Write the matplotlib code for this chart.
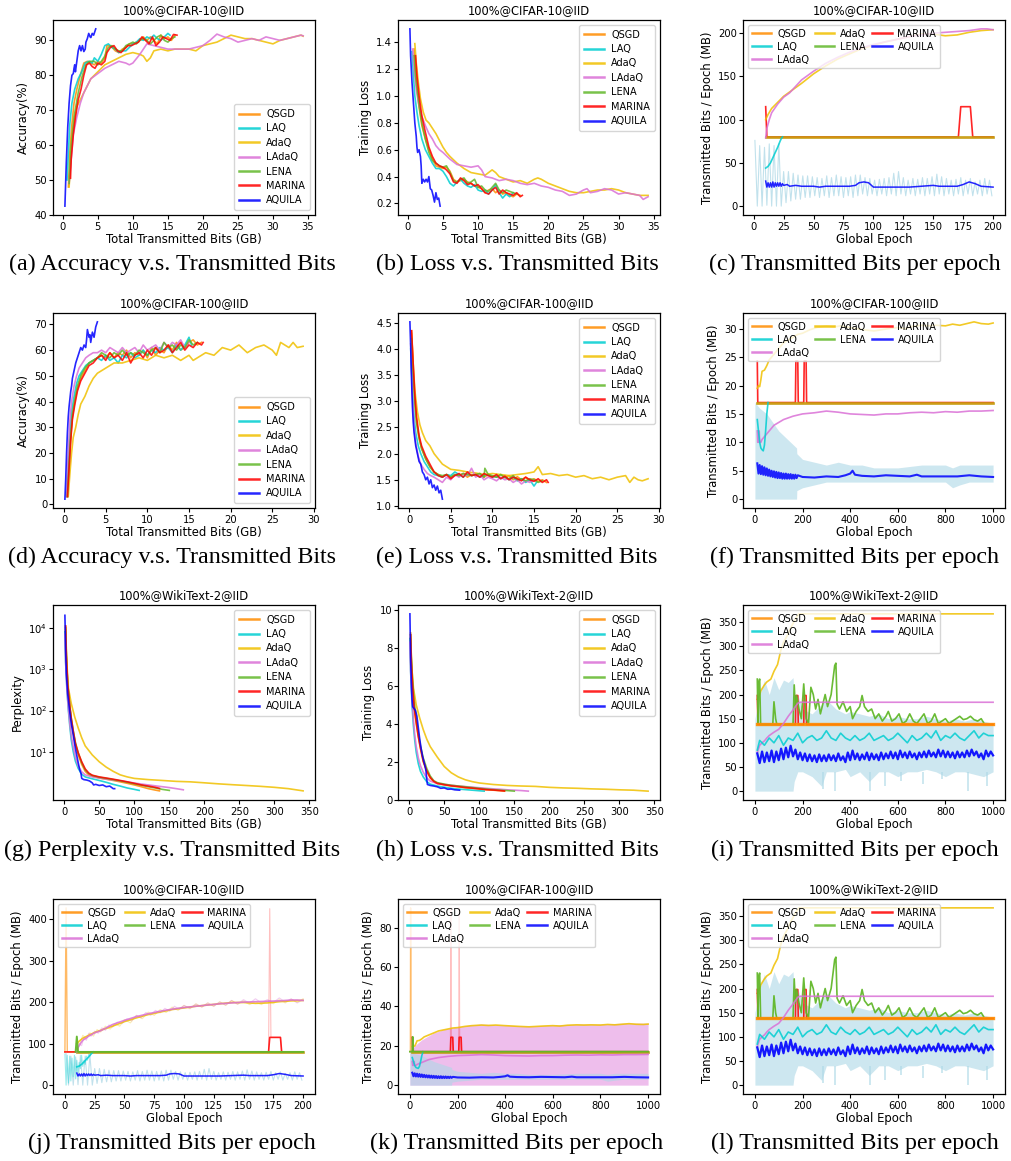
import numpy as np
import matplotlib
matplotlib.use('Agg')
import matplotlib.pyplot as plt
from matplotlib.lines import Line2D
from matplotlib.ticker import MultipleLocator, FixedLocator, NullLocator

# ---------------- labels / colours ----------------
methods = ['QSGD', 'LAQ', 'AdaQ', 'LAdaQ', 'LENA', 'MARINA', 'AQUILA']
colors = ['darkorange', 'darkturquoise', '#f0c000', 'orchid', '#62b82a', 'red', 'blue']
captions = ['(a) Accuracy v.s. Transmitted Bits', '(b) Loss v.s. Transmitted Bits', '(c) Transmitted Bits per epoch',
            '(d) Accuracy v.s. Transmitted Bits', '(e) Loss v.s. Transmitted Bits', '(f) Transmitted Bits per epoch',
            '(g) Perplexity v.s. Transmitted Bits', '(h) Loss v.s. Transmitted Bits', '(i) Transmitted Bits per epoch',
            '(j) Transmitted Bits per epoch', '(k) Transmitted Bits per epoch', '(l) Transmitted Bits per epoch']
titles = ['100%@CIFAR-10@IID', '100%@CIFAR-100@IID', '100%@WikiText-2@IID']

# ---------------- (a) accuracy CIFAR-10 ----------------
a_qsgd = [(0.8,48),(1.0,58),(1.3,66),(1.6,72),(2,76),(2.5,80),(3,83.5),(3.5,84),(4,83.5),(4.5,83),(5,84),(5.5,83.5),(6,85),(6.3,88.5),(6.8,88.5),(7.5,87),(8,86.5),(8.5,87.5),(9,88),(9.5,89),(10,89),(10.5,89.5),(11,90),(11.5,91),(12,90),(12.5,91),(13,90),(13.5,89),(14,91.5),(14.5,90.5),(15,91),(15.5,90),(16,91.5)]
a_laq = [(0.6,50),(0.8,58),(1,66),(1.3,72),(1.7,76),(2.2,79),(2.7,81),(3.2,83.5),(3.7,84),(4.2,83.5),(4.5,85),(5,84),(5.5,86),(6,88.5),(6.5,89),(7,88),(7.5,87.5),(8,86.5),(8.5,87),(9,87),(9.5,88),(10,89),(10.5,89.5),(11,90.5),(11.5,90),(12,91),(12.5,90.5),(13,91.5),(13.5,90.5),(14,90),(14.5,91),(15,92),(15.3,91.5)]
a_adaq = [(0.9,48),(1.2,58),(1.5,65),(2,71),(2.5,73),(3,75),(3.5,77),(4,79),(5,81),(6,83),(7,84),(8,85),(9,86),(10,86.5),(11,86),(11.5,85.5),(12,84),(12.5,85),(13,87),(14,87.5),(15,87),(16,87.5),(17,87.5),(18,87.5),(19,87),(20,88.5),(21,89),(22,89.5),(23,90.5),(24,91.5),(25,91),(26,90.5),(27,90.5),(28,90),(29,89.5),(30,89),(31,90),(32,90.5),(33,91),(34,91.5),(34.3,91.2)]
a_ladaq = [(0.9,49),(1.2,56),(1.5,63),(2,68),(2.5,72),(3,75),(3.5,77),(4,79),(5,80.5),(6,82),(7,83),(8,84),(9,83.5),(9.5,83),(10,83.5),(11,86),(12,89),(13,88.5),(14,88),(15,87.5),(16,87.5),(17,87.5),(18,87.5),(19,88),(20,88.5),(21,90),(22,91.8),(23,91),(24,90.5),(25,89.5),(26,90),(27,90.5),(28,90),(29,91),(30,90.5),(31,90),(32,90.5),(33,91),(34,91.5),(34.3,91.3)]
a_lena = [(0.9,49),(1.2,60),(1.6,68),(2.2,75),(2.8,80),(3.3,83),(3.8,84),(4.5,84),(5,83),(5.5,84),(6,85.5),(6.5,88),(7,88.5),(7.5,87.5),(8,87),(8.5,87),(9,88.5),(9.5,89),(10,89.5),(10.5,89),(11,90),(11.5,90.5),(12,90),(12.5,89),(13,90),(13.5,91),(14,91.5),(14.5,90),(15,89.5),(15.5,90.5),(16,91)]
a_marina = [(1.1,50.5),(1.2,56),(1.5,63),(1.8,68),(2.2,73),(2.6,76),(3,80),(3.4,83),(3.8,83.5),(4.2,82.5),(4.6,82),(5,83.5),(5.5,83),(6,84),(6.3,86.5),(6.8,88),(7.3,88.5),(7.8,87),(8.3,86.5),(8.8,87.5),(9.3,88.5),(9.8,88.5),(10.3,89),(10.8,89.5),(11.3,91),(11.8,90),(12.3,89),(12.8,91),(13.3,88.5),(13.8,89.5),(14.3,91),(14.8,90.5),(15.3,90),(15.8,91.7),(16.3,91.5)]
a_aquila = [(0.3,42.5),(0.5,55),(0.7,65),(0.9,72),(1.1,77),(1.3,80),(1.5,80.5),(1.6,82),(1.7,83),(1.8,81),(2.0,84),(2.2,87),(2.4,88.5),(2.6,87),(2.8,88.5),(3.0,86.8),(3.2,87.5),(3.3,89.5),(3.5,90.5),(3.7,92),(3.9,91),(4.0,90.8),(4.2,92),(4.4,91.5),(4.7,93.3)]

# ---------------- (b) loss CIFAR-10 ----------------
b_qsgd = [(0.9,1.35),(1.1,1.2),(1.3,1.05),(1.6,0.92),(2,0.78),(2.5,0.68),(3,0.6),(3.5,0.53),(4,0.48),(4.5,0.47),(5,0.46),(5.5,0.47),(6,0.44),(6.5,0.38),(7,0.36),(7.5,0.37),(8,0.38),(8.5,0.36),(9,0.35),(9.5,0.33),(10,0.32),(10.5,0.31),(11,0.28),(11.5,0.3),(12,0.31),(12.5,0.28),(13,0.3),(13.5,0.27),(14,0.28),(14.5,0.26),(15,0.25),(15.5,0.27),(16,0.26)]
b_laq = [(0.6,1.33),(0.8,1.15),(1,1.0),(1.3,0.88),(1.6,0.78),(2,0.68),(2.5,0.6),(3,0.55),(3.5,0.5),(4,0.46),(4.5,0.46),(5,0.44),(5.5,0.4),(6,0.35),(6.5,0.33),(7,0.36),(7.5,0.38),(8,0.35),(8.5,0.33),(9,0.32),(9.5,0.34),(10,0.3),(10.5,0.29),(11,0.3),(11.5,0.27),(12,0.3),(12.5,0.34),(13,0.28),(13.5,0.24),(14,0.27),(14.5,0.25),(15,0.28)]
b_adaq = [(1.0,1.39),(1.2,1.25),(1.5,1.1),(1.8,0.98),(2.2,0.88),(2.6,0.82),(3,0.8),(3.5,0.76),(4,0.72),(4.5,0.67),(5,0.62),(5.5,0.58),(6,0.55),(7,0.5),(8,0.46),(9,0.43),(10,0.42),(11,0.41),(12,0.45),(12.5,0.43),(13,0.4),(14,0.38),(15,0.36),(16,0.37),(17,0.35),(18,0.38),(18.5,0.39),(19,0.38),(20,0.35),(21,0.33),(22,0.31),(23,0.29),(24,0.28),(25,0.28),(26,0.29),(27,0.3),(28,0.3),(29,0.31),(30,0.3),(31,0.28),(32,0.27),(33,0.26),(34.2,0.26)]
b_ladaq = [(0.7,1.35),(0.9,1.2),(1.2,1.05),(1.5,0.95),(2,0.85),(2.5,0.78),(3,0.72),(3.5,0.68),(4,0.63),(4.5,0.6),(5,0.58),(6,0.53),(7,0.49),(8,0.48),(9,0.47),(10,0.48),(10.5,0.45),(11,0.4),(12,0.39),(13,0.37),(14,0.38),(15,0.37),(16,0.35),(17,0.34),(18,0.35),(19,0.33),(20,0.32),(21,0.3),(22,0.29),(23,0.26),(24,0.27),(25,0.3),(25.5,0.31),(26,0.28),(27,0.29),(28,0.31),(29,0.3),(30,0.27),(31,0.28),(32,0.27),(33,0.26),(33.5,0.23),(34.2,0.25)]
b_lena = [(0.9,1.3),(1.1,1.15),(1.4,1.02),(1.7,0.9),(2,0.8),(2.5,0.68),(3,0.58),(3.5,0.52),(4,0.5),(4.5,0.48),(5,0.47),(5.5,0.48),(6,0.43),(6.5,0.37),(7,0.36),(7.5,0.38),(8,0.39),(8.5,0.35),(9,0.36),(9.5,0.38),(10,0.32),(10.5,0.33),(11,0.3),(11.5,0.29),(12,0.32),(12.5,0.35),(13,0.3),(13.5,0.28),(14,0.3),(14.5,0.29),(15,0.28),(15.5,0.27)]
b_marina = [(1.1,1.3),(1.3,1.15),(1.6,1.0),(2,0.85),(2.5,0.73),(3,0.62),(3.5,0.55),(4,0.5),(4.5,0.48),(5,0.47),(5.5,0.45),(6,0.42),(6.5,0.36),(7,0.35),(7.5,0.39),(8,0.37),(8.5,0.34),(9,0.35),(9.5,0.33),(10,0.34),(10.5,0.31),(11,0.28),(11.5,0.27),(12,0.3),(12.5,0.32),(13,0.27),(13.5,0.3),(14,0.28),(14.5,0.27),(15,0.26),(15.5,0.28),(16,0.25),(16.3,0.26)]
b_aquila = [(0.3,1.5),(0.4,1.3),(0.6,1.1),(0.8,0.95),(1.0,0.8),(1.2,0.7),(1.3,0.62),(1.4,0.58),(1.6,0.6),(1.8,0.55),(1.9,0.48),(2.0,0.35),(2.2,0.38),(2.4,0.36),(2.6,0.38),(2.8,0.36),(3.0,0.4),(3.2,0.31),(3.4,0.3),(3.6,0.26),(3.8,0.21),(4.0,0.28),(4.2,0.23),(4.4,0.24),(4.6,0.18)]

# ---------------- (d) accuracy CIFAR-100 ----------------
d_qsgd = [(0.4,3),(0.6,15),(0.8,26),(1.0,34),(1.3,40),(1.6,45),(2,49),(2.5,52),(3,55),(3.5,56),(4,57),(4.5,58),(5,57),(5.5,59),(6,57),(6.5,59),(7,58),(7.5,60),(8,57),(8.5,59),(9,58),(9.5,60),(10,57),(10.5,61),(11,58),(11.5,60),(12,59),(12.5,62),(13,60),(13.5,63),(14,60),(14.5,61),(15,63),(15.5,64),(16,62),(16.5,63)]
d_laq = [(0.3,3),(0.5,15),(0.7,28),(0.9,36),(1.2,42),(1.5,47),(1.8,50),(2.2,52),(2.6,54),(3,55),(3.5,56),(4,57),(4.5,56),(5,58),(5.5,56),(6,57),(6.5,55),(7,58),(7.5,57),(8,59),(8.5,57),(9,58),(9.5,60),(10,58),(10.5,60),(11,59),(11.5,61),(12,60),(12.5,61),(13,59),(13.5,62),(14,60),(14.5,62),(15,65),(15.3,62)]
d_adaq = [(0.5,3),(0.7,12),(0.9,20),(1.1,26),(1.4,30),(1.7,35),(2,39),(2.5,42),(3,46),(3.5,49),(4,51),(4.5,52),(5,53),(6,55),(7,55),(8,56),(9,57),(10,56),(11,58),(12,57),(13,58),(14,56),(15,58),(15.5,56),(16,57),(17,59),(18,58),(19,61),(20,60),(21,62),(22,59),(23,61),(24,62),(25,60),(25.5,58),(26,63),(27,61),(27.5,63),(28,61),(28.7,61.5)]
d_ladaq = [(0.3,3),(0.5,20),(0.7,33),(0.9,40),(1.2,46),(1.5,50),(1.8,53),(2.2,55),(2.6,57),(3,58),(3.5,59),(4,59),(4.5,60),(5,59),(5.5,61),(6,60),(6.5,59),(7,61),(7.5,59),(8,60),(8.5,61),(9,59),(9.5,62),(10,60),(10.5,61),(11,62),(11.5,60),(12,63),(12.5,61),(13,63),(13.5,62),(14,64),(14.5,61),(15,63)]
d_lena = [(0.4,3),(0.6,16),(0.8,27),(1,35),(1.3,41),(1.6,46),(2,50),(2.5,53),(3,55),(3.5,56),(4,57),(4.5,59),(5,58),(5.5,57),(6,59),(6.5,58),(7,60),(7.5,58),(8,59),(8.5,58),(9,60),(9.5,59),(10,58),(10.5,60),(11,61),(11.5,59),(12,63),(12.5,61),(13,62),(13.5,60),(14,62),(14.5,61),(15,64),(15.5,62),(16,63)]
d_marina = [(0.4,3),(0.6,14),(0.8,25),(1,33),(1.3,39),(1.6,44),(2,48),(2.5,51),(3,54),(3.5,55),(4,57),(4.5,58),(5,56),(5.5,59),(6,57),(6.5,58),(7,56),(7.5,59),(8,55),(8.5,58),(9,59),(9.5,57),(10,60),(10.5,58),(11,61),(11.5,59),(12,60),(12.5,62),(13,59),(13.5,61),(14,63),(14.5,60),(15,62),(15.5,61),(16,63),(16.5,62),(16.7,63)]
d_aquila = [(0.1,2),(0.2,10),(0.3,20),(0.4,28),(0.5,34),(0.6,38),(0.7,41),(0.8,44),(0.9,46),(1.0,49),(1.2,52),(1.4,55),(1.6,57),(1.8,59),(2.0,61),(2.2,60),(2.4,62),(2.6,61),(2.7,64),(2.8,68),(3.0,65),(3.1,66),(3.2,63),(3.4,67),(3.6,65),(3.8,69),(4.0,71)]

# ---------------- (e) loss CIFAR-100 ----------------
e_qsgd = [(0.3,4.35),(0.5,3.6),(0.7,3.0),(0.9,2.6),(1.2,2.3),(1.5,2.1),(2,1.9),(2.5,1.75),(3,1.65),(3.5,1.6),(4,1.55),(4.5,1.6),(5,1.55),(5.5,1.6),(6,1.58),(6.5,1.62),(7,1.55),(7.5,1.6),(8,1.58),(8.5,1.62),(9,1.55),(9.5,1.6),(10,1.57),(10.5,1.55),(11,1.6),(11.5,1.54),(12,1.58),(12.5,1.5),(13,1.56),(13.5,1.5),(14,1.55),(14.5,1.48),(15,1.52),(15.5,1.47),(16,1.5),(16.5,1.45)]
e_laq = [(0.2,4.0),(0.4,3.2),(0.6,2.7),(0.8,2.4),(1.1,2.15),(1.4,2.0),(1.8,1.85),(2.2,1.75),(2.6,1.65),(3,1.6),(3.5,1.58),(4,1.55),(4.5,1.6),(5,1.58),(5.5,1.65),(6,1.6),(6.5,1.55),(7,1.62),(7.5,1.58),(8,1.6),(8.5,1.55),(9,1.58),(9.5,1.6),(10,1.55),(10.5,1.57),(11,1.52),(11.5,1.55),(12,1.5),(12.5,1.55),(13,1.48),(13.5,1.52),(14,1.45),(14.5,1.5),(15,1.38),(15.3,1.45)]
e_adaq = [(0.3,4.3),(0.5,3.7),(0.7,3.2),(1.0,2.8),(1.3,2.55),(1.6,2.4),(2,2.25),(2.5,2.15),(3,2.0),(3.5,1.9),(4,1.8),(4.5,1.75),(5,1.7),(6,1.68),(7,1.65),(8,1.63),(9,1.6),(10,1.62),(11,1.6),(12,1.58),(13,1.6),(14,1.62),(15,1.65),(15.5,1.75),(16,1.6),(17,1.62),(18,1.58),(19,1.6),(20,1.55),(21,1.58),(22,1.52),(23,1.55),(24,1.5),(25,1.55),(26,1.58),(26.5,1.45),(27,1.55),(27.5,1.5),(28,1.48),(28.7,1.52)]
e_ladaq = [(0.2,4.1),(0.4,3.1),(0.6,2.5),(0.8,2.2),(1.1,1.95),(1.4,1.8),(1.8,1.7),(2.2,1.62),(2.6,1.58),(3,1.55),(3.5,1.5),(4,1.45),(4.5,1.55),(5,1.5),(5.5,1.6),(6,1.55),(6.5,1.62),(7,1.58),(7.5,1.72),(8,1.55),(8.5,1.6),(9,1.5),(9.5,1.55),(10,1.52),(10.5,1.48),(11,1.55),(11.5,1.5),(12,1.52),(12.5,1.45),(13,1.5),(13.5,1.42),(14,1.48),(14.5,1.45),(15,1.5)]
e_lena = [(0.3,4.2),(0.5,3.5),(0.7,2.95),(0.9,2.6),(1.2,2.3),(1.5,2.1),(2,1.9),(2.5,1.75),(3,1.65),(3.5,1.6),(4,1.58),(4.5,1.6),(5,1.55),(5.5,1.6),(6,1.58),(6.5,1.62),(7,1.6),(7.5,1.58),(8,1.6),(8.5,1.62),(9,1.55),(9.1,1.72),(9.5,1.6),(10,1.58),(10.5,1.55),(11,1.6),(11.5,1.55),(12,1.52),(12.5,1.58),(13,1.5),(13.5,1.52),(14,1.48),(14.5,1.52),(15,1.5),(15.5,1.45),(16,1.48)]
e_marina = [(0.3,4.35),(0.5,3.7),(0.7,3.1),(0.9,2.7),(1.2,2.35),(1.5,2.15),(2,1.95),(2.5,1.8),(3,1.65),(3.5,1.58),(4,1.55),(4.5,1.6),(5,1.52),(5.5,1.58),(6,1.62),(6.5,1.55),(7,1.65),(7.5,1.58),(8,1.6),(8.5,1.55),(9,1.62),(9.5,1.58),(10,1.55),(10.5,1.6),(11,1.52),(11.5,1.57),(12,1.5),(12.5,1.55),(13,1.52),(13.5,1.48),(14,1.55),(14.5,1.5),(15,1.47),(15.5,1.52),(16,1.45),(16.5,1.5),(16.7,1.45)]
e_aquila = [(0.1,4.52),(0.2,4.0),(0.3,3.4),(0.4,2.9),(0.5,2.6),(0.6,2.4),(0.8,2.15),(1.0,2.0),(1.2,1.85),(1.4,1.8),(1.6,1.65),(1.8,1.6),(2.0,1.5),(2.2,1.55),(2.4,1.42),(2.6,1.5),(2.8,1.35),(3.0,1.4),(3.2,1.3),(3.4,1.38),(3.6,1.25),(3.8,1.3),(4.0,1.13)]

# ---------------- (g) perplexity WikiText-2 ----------------
g_qsgd = [(2,11000),(3,2000),(5,400),(8,120),(10,60),(13,28),(16,15),(20,8.5),(25,5.0),(30,3.4),(35,2.8),(40,2.6),(50,2.35),(60,2.2),(70,2.05),(80,1.9),(90,1.75),(100,1.6),(110,1.45),(120,1.3),(130,1.2),(136,1.15)]
g_laq = [(1,8000),(2,1500),(4,300),(6,100),(8,42),(10,20),(13,10),(16,6),(20,4.0),(25,2.9),(30,2.5),(40,2.25),(50,2.05),(60,1.85),(70,1.65),(80,1.5),(90,1.35),(100,1.25),(107,1.18)]
g_adaq = [(2,9000),(4,1200),(6,350),(10,150),(15,70),(20,38),(25,22),(30,14),(40,8.5),(50,5.8),(60,4.3),(70,3.4),(80,2.8),(90,2.5),(100,2.3),(120,2.15),(140,2.05),(160,1.95),(180,1.9),(200,1.8),(220,1.7),(240,1.62),(260,1.55),(280,1.48),(300,1.4),(320,1.3),(341,1.15)]
g_ladaq = [(1,7000),(2,1500),(4,300),(6,110),(8,48),(10,25),(13,13),(16,7.5),(20,4.6),(25,3.3),(30,2.8),(40,2.5),(50,2.35),(60,2.2),(70,2.1),(80,2.0),(90,1.9),(100,1.78),(110,1.68),(120,1.6),(130,1.52),(140,1.45),(150,1.38),(160,1.3),(170,1.22)]
g_lena = [(2,10000),(3,2200),(5,450),(8,130),(10,68),(13,32),(16,17),(20,9.5),(25,5.5),(30,3.7),(35,3.0),(40,2.7),(50,2.45),(60,2.3),(70,2.15),(80,2.0),(90,1.85),(100,1.7),(110,1.58),(120,1.45),(130,1.35),(140,1.25),(150,1.18)]
g_marina = [(2,11000),(3,2200),(5,420),(8,125),(10,65),(13,31),(16,16),(20,9.5),(25,5.8),(30,3.9),(35,3.1),(40,2.75),(50,2.5),(60,2.35),(70,2.2),(80,2.05),(90,1.9),(100,1.75),(110,1.6),(120,1.5),(130,1.4),(136,1.32)]
g_aquila = [(1,20000),(2,3000),(3,800),(5,250),(8,90),(10,50),(13,25),(16,12),(20,5.5),(22,3.8),(24,3.0),(25,2.3),(28,2.15),(32,2.1),(36,2.0),(40,1.8),(42,1.6),(45,1.65),(50,1.55),(55,1.6),(60,1.45),(65,1.5),(70,1.3),(72,1.3)]

# ---------------- (h) loss WikiText-2 ----------------
h_qsgd = [(2,8.8),(3,7.2),(5,5.8),(7,4.8),(10,4.0),(13,3.3),(16,2.7),(20,2.0),(25,1.5),(30,1.15),(35,0.95),(40,0.85),(50,0.78),(60,0.72),(70,0.68),(80,0.63),(90,0.6),(100,0.56),(110,0.52),(120,0.5),(130,0.47),(136,0.45)]
h_laq = [(1,8.5),(2,6.8),(4,5.0),(6,3.9),(8,3.1),(10,2.5),(13,1.9),(16,1.5),(20,1.2),(25,0.95),(30,0.82),(40,0.72),(50,0.66),(60,0.6),(70,0.56),(80,0.53),(90,0.5),(100,0.47),(107,0.45)]
h_adaq = [(2,8.5),(4,6.8),(6,5.9),(10,5.0),(15,4.3),(20,3.7),(25,3.2),(30,2.8),(40,2.25),(50,1.75),(60,1.42),(70,1.2),(80,1.05),(90,0.95),(100,0.88),(120,0.8),(140,0.75),(160,0.72),(180,0.7),(200,0.65),(220,0.62),(240,0.6),(260,0.57),(280,0.55),(300,0.52),(320,0.5),(341,0.45)]
h_ladaq = [(1,8.3),(2,6.8),(4,5.3),(6,4.2),(8,3.4),(10,2.8),(13,2.2),(16,1.8),(20,1.45),(25,1.15),(30,0.98),(40,0.85),(50,0.8),(60,0.76),(70,0.72),(80,0.69),(90,0.66),(100,0.63),(110,0.6),(120,0.57),(130,0.55),(140,0.52),(150,0.5),(160,0.48),(170,0.45)]
h_lena = [(2,8.7),(3,7.5),(5,6.2),(7,5.2),(10,4.3),(13,3.5),(16,2.85),(20,2.2),(25,1.65),(30,1.25),(35,1.0),(40,0.9),(50,0.82),(60,0.76),(70,0.72),(80,0.68),(90,0.64),(100,0.6),(110,0.56),(120,0.53),(130,0.5),(140,0.48),(150,0.45)]
h_marina = [(2,8.7),(3,7.3),(5,5.9),(7,4.9),(10,4.1),(13,3.35),(16,2.75),(20,2.05),(25,1.52),(30,1.17),(35,0.97),(40,0.86),(50,0.79),(60,0.73),(70,0.69),(80,0.64),(90,0.61),(100,0.57),(110,0.53),(120,0.51),(130,0.48),(136,0.46)]
h_aquila = [(1,9.8),(2,7.5),(3,6.2),(4,5.3),(5,4.9),(7,4.8),(9,4.7),(11,4.4),(13,3.8),(15,3.2),(17,2.7),(19,2.3),(21,2.0),(23,1.7),(24,1.5),(25,1.1),(26,0.8),(30,0.75),(35,0.72),(40,0.68),(45,0.6),(50,0.62),(55,0.55),(60,0.56),(65,0.52),(72,0.5)]

# ---------------- (c)/(j) per-epoch CIFAR-10 ----------------
c_aquila_raw = [76,0,70,0,68,1,72,0,70,0,72,0,
                40,4,40,6,38,8,36,8,35,10,35,10,
                34,12,33,10,32,12,35,10,33,12,36,12,
                34,10,33,12,34,10,36,12,36,14,33,12,
                32,14,30,12,31,14,32,12,33,14,38,12,
                40,14,33,12,30,14,32,12,31,14,33,12,
                32,14,34,12,37,14,34,12,32,14,30,12,
                31,14,33,12,30,14,32,12,28,14,30,12,32,14,30,12]
c_qsgd = [(10,80),(200,80)]
c_lena = [(10,80),(200,80)]
c_laq = [(10,44),(12,46),(14,50),(16,56),(18,62),(20,68),(22,75),(23,78),(24,80)]
c_marina = [(10,115),(11,80),(171,80),(173,115),(181,115),(183,80),(200,80)]
c_adaq = [(10,100),(12,106),(15,113),(20,120),(25,127),(30,132),(35,137),(40,142),(50,153),(60,162),(70,170),(80,176),(90,182),(100,186),(110,190),(120,193),(130,196),(140,199),(150,199),(160,197),(170,198),(180,201),(190,203),(200,204)]
c_ladaq = [(10,79),(11,90),(13,100),(15,108),(20,118),(25,126),(30,131),(40,146),(50,156),(60,165),(70,172),(80,178),(90,183),(100,187),(110,190),(120,193),(130,196),(140,198),(150,200),(160,201),(170,202),(180,203),(190,205),(195,205),(200,204)]
c_aquila = [(10,29),(11,22),(12,27),(13,22),(14,27),(15,22),(16,28),(17,22),(18,27),(19,23),(20,27),(21,23),(22,27),(23,23),(24,26),(25,24),(28,25),(30,23),(35,24),(40,23),(45,23),(50,23),(55,22),(60,23),(65,23),(70,23),(75,23),(80,23),(85,24),(88,27),(92,28),(96,27),(100,22),(110,22),(120,22),(130,22),(140,23),(150,24),(155,23),(160,23),(170,23),(175,25),(180,28),(185,26),(190,23),(200,22)]
j_qsgd_raw = [(0,80),(1,427),(2,80),(10,80)]
j_marina_raw = [(171,80),(172,425),(173,115),(181,115),(182,80)]
j_marina = [(0,80),(171,80),(172,115),(181,115),(182,80),(200,80)]
j_lena = [(9,80),(10,117),(11,80),(200,80)]
j_laq_raw = [(0,75),(1,0),(2,72),(3,5),(4,70),(5,10),(6,65),(7,20),(8,72),(9,15),(10,60),(11,30),(12,55),(13,40),(14,72),(15,45),(16,60),(17,50),(18,70),(19,60),(20,75),(21,70),(22,80),(23,78),(24,80)]
j_ladaq_raw = [(10,80),(12,100),(14,95),(16,115),(18,108),(20,125),(22,118),(25,130),(28,125),(31,138),(34,132),(37,145),(40,140),(44,152),(48,148),(52,160),(56,155),(60,168),(64,162),(68,175),(72,168),(76,180),(80,174),(84,185),(88,178),(92,190),(96,183),(100,192),(105,185),(110,195),(115,188),(120,198),(125,190),(130,200),(135,193),(140,204),(145,195),(150,206),(155,197),(160,208),(165,198),(170,206),(175,199),(180,210),(185,200),(190,208),(195,198),(200,206)]
j_adaq_raw = [(10,105),(12,96),(15,120),(18,112),(21,126),(24,118),(27,134),(30,128),(34,142),(38,135),(42,148),(46,142),(50,158),(55,150),(60,168),(65,160),(70,176),(75,168),(80,182),(85,175),(90,188),(95,180),(100,192),(105,184),(110,196),(115,188),(120,198),(125,190),(130,201),(135,192),(140,204),(145,195),(150,203),(155,194),(160,201),(165,194),(170,203),(175,196),(180,206),(185,198),(190,207),(195,200),(200,208)]

# ---------------- (f)/(k) per-epoch CIFAR-100 ----------------
f_qsgd = [(10,17),(1000,17)]
f_lena = [(10,17),(1000,17)]
f_marina = [(10,24.3),(12,17),(170,17),(172,24.3),(180,24.3),(182,17),(205,17),(207,24.3),(215,24.3),(217,17),(1000,17)]
f_adaq = [(10,19.5),(15,20),(20,19.8),(25,21),(30,22.5),(40,22.7),(50,23.5),(60,24.5),(70,25),(80,25.5),(100,26.5),(120,27.5),(140,28),(160,28.5),(180,29),(200,29.2),(230,29.8),(260,30.2),(300,30.5),(330,30.3),(360,30.5),(400,30.2),(430,30),(460,29.8),(500,29.6),(530,29.8),(560,30),(600,30.2),(630,30),(660,30.4),(700,30.6),(730,30.5),(760,30.6),(800,30.5),(830,30.8),(860,30.6),(900,31),(920,31.2),(950,30.9),(980,30.8),(1000,31)]
f_ladaq = [(10,12),(12,10),(14,12),(16,10),(18,12),(20,10),(25,10),(30,10.5),(40,11),(50,11.5),(60,12),(80,13),(100,13.5),(120,14),(140,14.3),(160,14.6),(180,14.8),(200,15),(250,15.2),(300,15.5),(350,15.3),(400,15),(450,14.9),(500,14.8),(550,15),(600,15),(650,15.2),(700,15.3),(750,15.2),(800,15.4),(850,15.3),(900,15.5),(950,15.5),(1000,15.6)]
f_laq = [(10,14),(15,12),(20,10),(25,9),(30,8.7),(35,8.5),(40,9.5),(45,12),(50,15),(55,17)]
f_aquila = [(10,6.3),(15,4.5),(20,6.0),(25,4.4),(30,5.8),(35,4.3),(40,5.6),(45,4.2),(50,5.4),(55,4.1),(60,5.2),(65,4.0),(70,5.0),(75,3.9),(80,4.9),(85,3.8),(90,4.8),(95,3.7),(100,4.7),(105,3.7),(110,4.6),(115,3.6),(120,4.5),(125,3.6),(130,4.5),(135,3.6),(140,4.4),(145,3.6),(150,4.4),(155,3.6),(160,4.3),(165,3.6),(170,4.3),(175,3.7),(180,4.2),(200,3.9),(250,3.8),(300,4.0),(350,3.9),(380,4.2),(400,4.5),(410,5.0),(420,4.3),(450,4.1),(500,4.0),(550,4.2),(600,4.1),(650,4.0),(680,4.3),(700,4.0),(750,4.0),(800,4.0),(850,4.0),(900,4.2),(950,4.0),(1000,3.9)]
f_raw_x = [0, 20, 50, 100, 150, 175, 176, 200, 250, 300, 350, 400, 450, 500, 600, 700, 800, 830, 860, 900, 1000]
f_raw_hi = [17, 16, 15, 12, 10, 9, 8, 7, 6.5, 6, 6.5, 6, 6, 5.5, 5.5, 6, 6, 5.5, 6, 6, 6]
f_raw_lo = [0, 0, 0, 0, 0, 0, 1.5, 2, 2.5, 3, 3, 3, 3, 3, 3, 3, 3, 2, 2.5, 3, 3]
k_qsgd_raw = [(0,17),(2,17),(3,90),(4,17),(10,17)]
k_marina_raw = [(170,17),(172,90),(174,24.3),(178,24.3),(180,17),(205,17),(207,90),(209,24.3),(213,24.3),(215,17)]
k_lena = [(0,17),(10,17),(12,24.5),(14,17),(1000,17)]
k_ladaq_raw_x = [0, 20, 50, 100, 150, 200, 250, 300, 400, 500, 600, 700, 800, 900, 1000]
k_ladaq_raw_hi = [17, 20, 23, 26.5, 28.5, 29.5, 30.5, 31, 30.5, 30, 30.5, 31, 31, 31.5, 31.5]

# ---------------- (i)/(l) per-epoch WikiText-2 ----------------
i_qsgd = [(10,138),(1000,138)]
i_marina = [(10,198),(13,138),(170,138),(172,198),(180,198),(182,138),(205,138),(207,198),(215,198),(217,138),(1000,138)]
i_adaq = [(10,190),(20,200),(25,208),(30,212),(40,220),(50,226),(67,232),(80,248),(95,262),(108,290),(120,308),(136,322),(150,338),(171,357),(185,367),(1000,367)]
i_ladaq = [(10,80),(20,95),(30,100),(40,104),(50,110),(60,115),(80,122),(100,128),(120,140),(140,155),(160,168),(180,182),(190,184),(1000,184)]
i_lena = [(10,232),(13,140),(16,225),(20,232),(24,138),(75,138),(80,185),(87,150),(92,138),(160,138),(165,220),(170,170),(175,198),(185,170),(195,150),(205,222),(215,150),(225,140),(235,215),(245,200),(255,170),(265,190),(275,160),(285,180),(295,200),(305,175),(320,200),(335,260),(340,265),(345,180),(355,170),(370,185),(385,165),(400,175),(410,150),(425,165),(440,175),(450,198),(460,175),(475,165),(490,170),(505,150),(520,160),(535,145),(550,155),(560,165),(575,145),(590,150),(605,160),(620,140),(635,145),(650,160),(665,145),(680,140),(695,150),(710,160),(725,140),(740,145),(755,160),(770,140),(785,145),(800,150),(815,140),(830,145),(845,150),(860,155),(875,148),(890,150),(905,155),(920,148),(935,145),(950,150),(960,142)]
i_laq = [(10,85),(20,105),(40,95),(60,110),(80,100),(100,115),(120,95),(140,110),(160,105),(180,120),(200,100),(220,110),(240,115),(260,105),(280,110),(300,125),(320,110),(340,105),(360,120),(380,110),(400,105),(420,115),(440,105),(460,110),(480,120),(500,105),(520,110),(540,115),(560,105),(580,110),(600,120),(620,110),(640,100),(660,115),(680,105),(700,110),(720,120),(740,110),(760,125),(780,105),(800,115),(820,110),(840,120),(860,110),(880,105),(900,115),(920,125),(940,110),(960,120),(980,115),(1000,115)]
i_aquila = [78,58,82,60,80,62,84,60,82,64,
            88,66,90,70,94,72,86,66,80,64,
            78,62,76,62,74,60,76,62,74,62,
            76,64,74,62,78,64,72,60,80,64,
            84,66,78,64,76,66,80,64,78,66,
            76,64,80,66,78,68,82,68,80,66,
            84,70,80,68,82,70,78,66,80,70,
            82,70,84,72,80,70,86,72,84,70,
            82,70,80,68,82,70,80,70,84,72,
            86,74,82,70,78,66,84,72,82,74]
i_raw_x = [0,20,40,60,80,100,120,140,160,165,180,200,240,280,300,340,380,400,440,480,520,560,600,640,680,720,760,800,840,880,920,960,1000]
i_raw_hi = [150,200,230,200,235,210,230,225,235,200,200,170,160,180,190,170,160,165,160,155,160,150,155,150,150,155,150,145,150,145,150,145,140]
i_raw_lo = [0,0,0,0,0,0,0,0,0,20,40,40,30,10,40,40,45,30,40,20,40,40,30,40,40,45,40,30,40,40,35,30,40]
i_raw_dips = [(285,5),(335,0),(485,0),(545,10),(615,20),(705,15),(785,25),(895,0),(975,10)]

# =====================================================================
plt.rcParams['font.family'] = 'DejaVu Sans'
plt.rcParams['xtick.labelsize'] = 7.2
plt.rcParams['ytick.labelsize'] = 7.2
plt.rcParams['xtick.major.size'] = 2.6
plt.rcParams['ytick.major.size'] = 2.6
plt.rcParams['xtick.major.pad'] = 2.2
plt.rcParams['ytick.major.pad'] = 1.6
plt.rcParams['axes.linewidth'] = 0.9

W, H = 1011, 1161
fig = plt.figure(figsize=(W / 100, H / 100), dpi=100)
col_left = [53, 398, 743]
row_top = [20, 313, 605, 899]
AW, AH = 262, 195
cap_x = [172, 517, 855]
cap_y = [264, 557, 850, 1143]


def add_ax(r, c):
    return fig.add_axes([col_left[c] / W, 1 - (row_top[r] + AH) / H, AW / W, AH / H])


def xy(pts):
    return [p[0] for p in pts], [p[1] for p in pts]


def pl(ax, pts, color, lw=1.0, alpha=0.85, **kw):
    x, y = xy(pts)
    ax.plot(x, y, color=color, lw=lw, alpha=alpha, **kw)


col = dict(zip(methods, colors))


def curve_panel(ax, series, title, ylabel, loc):
    for m in methods:
        pl(ax, series[m], col[m], lw=1.2, alpha=0.85, label=m)
    ax.set_title(title, fontsize=8.3, pad=4)
    ax.set_xlabel('Total Transmitted Bits (GB)', fontsize=8.4, labelpad=1)
    ax.set_ylabel(ylabel, fontsize=8.4, labelpad=3)
    leg = ax.legend(loc=loc, fontsize=7, handlelength=2.0, borderpad=0.5, labelspacing=0.45)
    for h in leg.get_lines():
        h.set_linewidth(1.8)


def epoch_style(ax, title):
    ax.set_title(title, fontsize=8.3, pad=4)
    ax.set_xlabel('Global Epoch', fontsize=8.4, labelpad=1)
    ax.set_ylabel('Transmitted Bits / Epoch (MB)', fontsize=8.4, labelpad=3)
    order = ['QSGD', 'LAQ', 'LAdaQ', 'AdaQ', 'LENA', 'MARINA', 'AQUILA']
    handles = [Line2D([], [], color=col[m], lw=1.8, alpha=0.85) for m in order]
    ax.legend(handles, order, loc='upper left', ncol=3, fontsize=7, handlelength=2.0,
              borderpad=0.4, labelspacing=0.3, columnspacing=0.6, handletextpad=0.6)


axes = {}
letters = 'abcdefghijkl'
for idx, L in enumerate(letters):
    axes[L] = add_ax(idx // 3, idx % 3)
    fig.text(cap_x[idx % 3] / W, 1 - cap_y[idx // 3] / H, captions[idx], ha='center', va='center',
             fontsize=17.3, family='Liberation Serif')

# (a)
curve_panel(axes['a'], dict(zip(methods, [a_qsgd, a_laq, a_adaq, a_ladaq, a_lena, a_marina, a_aquila])),
            titles[0], 'Accuracy(%)', 'lower right')
axes['a'].xaxis.set_major_locator(MultipleLocator(5))
axes['a'].yaxis.set_major_locator(MultipleLocator(10))
# (b)
curve_panel(axes['b'], dict(zip(methods, [b_qsgd, b_laq, b_adaq, b_ladaq, b_lena, b_marina, b_aquila])),
            titles[0], 'Training Loss', 'upper right')
axes['b'].xaxis.set_major_locator(MultipleLocator(5))
axes['b'].yaxis.set_major_locator(MultipleLocator(0.2))
# (d)
curve_panel(axes['d'], dict(zip(methods, [d_qsgd, d_laq, d_adaq, d_ladaq, d_lena, d_marina, d_aquila])),
            titles[1], 'Accuracy(%)', 'lower right')
axes['d'].xaxis.set_major_locator(MultipleLocator(5))
axes['d'].yaxis.set_major_locator(MultipleLocator(10))
# (e)
curve_panel(axes['e'], dict(zip(methods, [e_qsgd, e_laq, e_adaq, e_ladaq, e_lena, e_marina, e_aquila])),
            titles[1], 'Training Loss', 'upper right')
axes['e'].xaxis.set_major_locator(MultipleLocator(5))
axes['e'].yaxis.set_major_locator(MultipleLocator(0.5))
# (g)
ax = axes['g']
curve_panel(ax, dict(zip(methods, [g_qsgd, g_laq, g_adaq, g_ladaq, g_lena, g_marina, g_aquila])),
            titles[2], 'Perplexity', 'upper right')
ax.set_yscale('log')
ax.set_ylim(10 ** -0.16, 10 ** 4.55)
ax.yaxis.set_major_locator(FixedLocator([10, 100, 1000, 10000]))
ax.yaxis.set_minor_locator(NullLocator())
ax.xaxis.set_major_locator(MultipleLocator(50))
# (h)
curve_panel(axes['h'], dict(zip(methods, [h_qsgd, h_laq, h_adaq, h_ladaq, h_lena, h_marina, h_aquila])),
            titles[2], 'Training Loss', 'upper right')
axes['h'].xaxis.set_major_locator(MultipleLocator(50))
axes['h'].yaxis.set_major_locator(MultipleLocator(2))

# (c) & (j)
for L in ['c', 'j']:
    ax = axes[L]
    xr = 1 + 2 * np.arange(len(c_aquila_raw))
    ax.plot(xr, c_aquila_raw, color='lightblue', lw=0.8, alpha=0.75)
    if L == 'j':
        pl(ax, j_adaq_raw, col['AdaQ'], lw=0.8, alpha=0.3)
        pl(ax, j_ladaq_raw, col['LAdaQ'], lw=0.8, alpha=0.35)
        pl(ax, j_laq_raw, col['LAQ'], lw=0.8, alpha=0.4)
        pl(ax, j_marina_raw, 'red', lw=0.8, alpha=0.25)
        pl(ax, j_qsgd_raw, col['QSGD'], lw=1.0, alpha=0.6)
        pl(ax, j_marina, 'red', lw=1.2)
    else:
        pl(ax, c_marina, 'red', lw=1.2)
    pl(ax, c_lena, col['LENA'], lw=1.8, alpha=0.8)
    pl(ax, c_qsgd, col['QSGD'], lw=1.8, alpha=0.65)
    pl(ax, c_adaq, col['AdaQ'], lw=1.2)
    pl(ax, c_ladaq, col['LAdaQ'], lw=1.2)
    pl(ax, c_laq, col['LAQ'], lw=1.2)
    pl(ax, c_aquila, 'blue', lw=1.1)
    if L == 'j':
        pl(ax, j_lena, col['LENA'], lw=1.4, alpha=0.95)
        ax.yaxis.set_major_locator(MultipleLocator(100))
    else:
        ax.yaxis.set_major_locator(MultipleLocator(50))
    ax.xaxis.set_major_locator(MultipleLocator(25))
    epoch_style(ax, titles[0])

# (f) & (k)
for L in ['f', 'k']:
    ax = axes[L]
    if L == 'k':
        ax.fill_between(k_ladaq_raw_x, 0, k_ladaq_raw_hi, color='orchid', alpha=0.45, lw=0)
    ax.fill_between(f_raw_x, f_raw_lo, f_raw_hi, color='lightblue', alpha=0.6, lw=0)
    if L == 'k':
        pl(ax, k_qsgd_raw, col['QSGD'], lw=1.0, alpha=0.6)
        pl(ax, k_marina_raw, 'red', lw=0.8, alpha=0.25)
    pl(ax, f_marina, 'red', lw=1.2)
    pl(ax, f_lena, col['LENA'], lw=1.8, alpha=0.8)
    pl(ax, f_qsgd, col['QSGD'], lw=1.8, alpha=0.65)
    pl(ax, f_adaq, col['AdaQ'], lw=1.2)
    pl(ax, f_ladaq, col['LAdaQ'], lw=1.2)
    pl(ax, f_laq, col['LAQ'], lw=1.2)
    pl(ax, f_aquila, 'blue', lw=1.5)
    if L == 'k':
        pl(ax, k_lena, col['LENA'], lw=1.3, alpha=0.95)
        ax.yaxis.set_major_locator(MultipleLocator(20))
    else:
        ax.yaxis.set_major_locator(MultipleLocator(5))
    ax.xaxis.set_major_locator(MultipleLocator(200))
    epoch_style(ax, titles[1])

# (i) & (l)
for L in ['i', 'l']:
    ax = axes[L]
    ax.fill_between(i_raw_x, i_raw_lo, i_raw_hi, color='lightblue', alpha=0.6, lw=0)
    dx, dy = xy(i_raw_dips)
    ax.vlines(dx, dy, 40, color='lightblue', lw=1.2, alpha=0.7)
    pl(ax, i_adaq, col['AdaQ'], lw=1.2)
    pl(ax, i_marina, 'red', lw=1.2)
    pl(ax, i_lena, col['LENA'], lw=1.2, alpha=0.95)
    pl(ax, i_qsgd, col['QSGD'], lw=2.4, alpha=0.9)
    pl(ax, i_ladaq, col['LAdaQ'], lw=1.2)
    pl(ax, i_laq, col['LAQ'], lw=1.2)
    xa = 10 * (1 + np.arange(len(i_aquila)))
    ax.plot(xa, i_aquila, color='blue', lw=1.6, alpha=0.9)
    ax.xaxis.set_major_locator(MultipleLocator(200))
    ax.yaxis.set_major_locator(MultipleLocator(50))
    epoch_style(ax, titles[2])

fig.savefig('out.png', dpi=100)
